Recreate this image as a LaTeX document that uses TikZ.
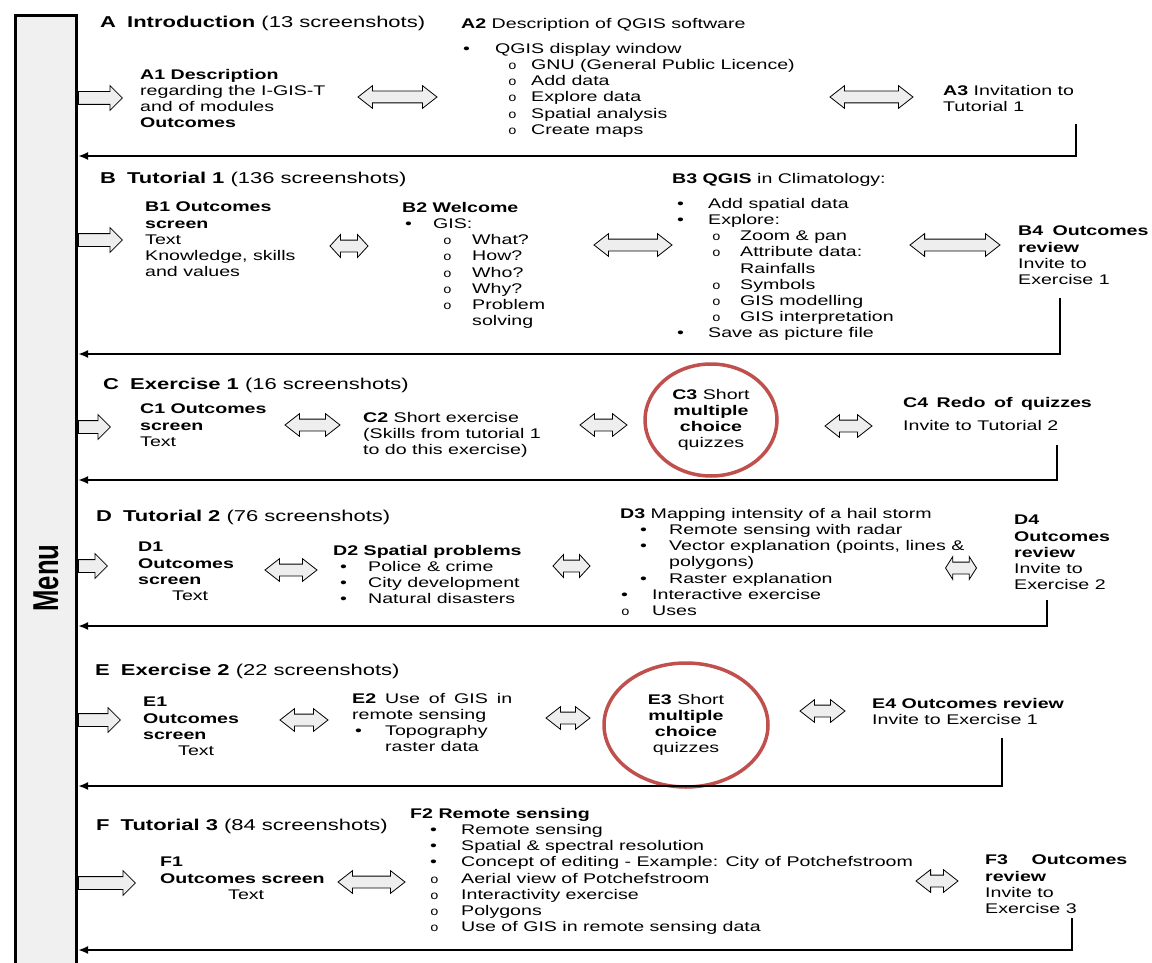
\documentclass[tikz,border=0pt]{standalone}
\usepackage{fontspec}
\setmainfont{Liberation Sans}[FakeStretch=1.4]
\newfontfamily\obfont{Liberation Mono}[FakeStretch=1.2]
\newfontfamily\menufont{Liberation Sans}[FakeStretch=0.714]
\usetikzlibrary{shapes.arrows,shapes.geometric,arrows.meta}
\definecolor{ovalred}{RGB}{192,80,77}
\definecolor{arrowfill}{RGB}{238,238,238}
\definecolor{menufill}{RGB}{240,240,240}
\newcommand{\ob}{{\obfont\fontsize{12}{16.2}\selectfont o}}
\newcommand{\BL}[2]{\hspace*{#1pt}\makebox[\dimexpr#2pt-#1pt\relax][l]{•}}
\newcommand{\OL}[2]{\hspace*{#1pt}\makebox[\dimexpr#2pt-#1pt\relax][l]{\ob}}
\begin{document}
\begin{tikzpicture}[x=1pt,y=-1pt,
  txt/.style={anchor=north west,inner sep=0pt,align=left,font=\fontsize{14}{16.2}\selectfont},
  ttl/.style={anchor=north west,inner sep=0pt,font=\fontsize{15.7}{18}\selectfont},
  inarrow/.style={single arrow,draw=black,line width=0.8pt,fill=arrowfill,anchor=west,
    inner xsep=0pt,inner ysep=6pt,single arrow head extend=6pt,minimum width=24pt},
  dbl/.style={double arrow,draw=black,line width=0.8pt,fill=arrowfill,
    inner xsep=0pt,inner ysep=5.5pt,double arrow head extend=5.5pt,minimum width=22pt,
    double arrow tip angle=76},
  ret/.style={line width=2.2pt,-{Latex[length=10pt,width=8pt]}},
  oval/.style={ellipse,draw=ovalred,line width=3.5pt,align=center,inner sep=0pt,
    font=\fontsize{14}{15.8}\selectfont}
]
\useasboundingbox (0,0) rectangle (1152,963);
% menu
\node[draw=black,line width=3pt,fill=menufill,minimum width=61pt,minimum height=964.5pt,
  inner sep=0pt,anchor=north west] (menu) at (14,14) {};
\node[rotate=90,inner sep=0pt] (menulbl) at (46,578)
  {\menufont\bfseries\fontsize{36}{40}\selectfont Menu};

% ---------------- A
\node[ttl] (Atitle) at (100,16.4) {\textbf{A\hspace{5pt} Introduction} (13 screenshots)};
\node[inarrow,minimum height=44pt] (inA) at (78,98) {};
\node[txt] (A1) at (140,69) {\textbf{A1 Description}\\regarding the I-GIS-T\\and of modules\\\textbf{Outcomes}};
\node[dbl,minimum height=79pt] (dA12) at (397.5,97) {};
\node[txt] (A2) at (461,18) {\textbf{A2} Description of QGIS software\\[8.8pt]
  \BL{2}{34}QGIS display window\\
  \OL{47}{70}GNU (General Public Licence)\\
  \OL{47}{70}Add data\\
  \OL{47}{70}Explore data\\
  \OL{47}{70}Spatial analysis\\
  \OL{47}{70}Create maps};
\node[dbl,minimum height=83pt] (dA23) at (871.5,97) {};
\node[txt] (A3) at (943,85) {\textbf{A3} Invitation to\\Tutorial 1};
\coordinate (rA) at (1076,124); \coordinate (yA) at (0,156);
\draw[ret] (rA) |- (menu.east |- yA);

% ---------------- B
\node[ttl] (Btitle) at (100,172.4) {\textbf{B\hspace{5pt} Tutorial 1} (136 screenshots)};
\node[inarrow,minimum height=44pt] (inB) at (78,240) {};
\node[txt] (B1) at (145,202) {\textbf{B1 Outcomes}\\\textbf{screen}\\Text\\Knowledge, skills\\and values};
\node[dbl,minimum height=38pt,double arrow tip angle=95] (dB12) at (349,246) {};
\node[txt] (B2) at (402,202) {\textbf{B2 Welcome}\\
  \BL{3}{31}GIS:\\
  \OL{41}{70}What?\\
  \OL{41}{70}How?\\
  \OL{41}{70}Who?\\
  \OL{41}{70}Why?\\
  \OL{41}{70}Problem\\
  \hspace*{70pt}solving};
\node[dbl,minimum height=78pt] (dB23) at (633,245) {};
\node[txt] (B3) at (672,173) {\textbf{B3 QGIS} in Climatology:\\[8.8pt]
  \BL{5}{36}Add spatial data\\
  \BL{5}{36}Explore:\\
  \OL{40}{68}Zoom \& pan\\
  \OL{40}{68}Attribute data:\\
  \hspace*{68pt}Rainfalls\\
  \OL{40}{68}Symbols\\
  \OL{40}{68}GIS modelling\\
  \OL{40}{68}GIS interpretation\\
  \BL{5}{36}Save as picture file};
\node[dbl,minimum height=90pt] (dB34) at (955,245) {};
\node[txt] (B4) at (1018,226) {\textbf{B4\hspace{4pt} Outcomes}\\\textbf{review}\\Invite to\\Exercise 1};
\coordinate (rB) at (1060,298); \coordinate (yB) at (0,354);
\draw[ret] (rB) |- (menu.east |- yB);

% ---------------- C
\node[ttl] (Ctitle) at (103,378.4) {\textbf{C\hspace{5pt} Exercise 1} (16 screenshots)};
\node[inarrow,minimum height=32pt] (inC) at (78,427) {};
\node[txt] (C1) at (140,404) {\textbf{C1 Outcomes}\\\textbf{screen}\\Text};
\node[dbl,minimum height=55pt] (dC12) at (312.5,425) {};
\node[txt] (C2) at (363,412) {\textbf{C2} Short exercise\\(Skills from tutorial 1\\to do this exercise)};
\node[dbl,minimum height=47pt] (dC23) at (603.5,425) {};
\node[oval,minimum width=132pt,minimum height=112pt] (C3) at (711,420)
  {\textbf{C3} Short\\\textbf{multiple}\\\textbf{choice}\\quizzes};
\node[dbl,minimum height=47pt] (dC34) at (848.5,426) {};
\node[txt] (C4) at (903,397) {\textbf{C4\hspace{3pt} Redo\hspace{3pt} of\hspace{3pt} quizzes}\\[6.8pt]Invite to Tutorial 2};
\coordinate (rC) at (1057,445); \coordinate (yC) at (0,480);
\draw[ret] (rC) |- (menu.east |- yC);

% ---------------- D
\node[ttl] (Dtitle) at (96,510.4) {\textbf{D\hspace{5pt} Tutorial 2} (76 screenshots)};
\node[inarrow,minimum height=29pt] (inD) at (78,566) {};
\node[txt] (D1) at (138,542) {\textbf{D1}\\\textbf{Outcomes}\\\textbf{screen}\\\hspace*{34pt}Text};
\node[dbl,minimum height=52pt] (dD12) at (291,570) {};
\node[txt] (D2) at (333,545) {\textbf{D2 Spatial problems}\\
  \BL{7}{35}Police \& crime\\
  \BL{7}{35}City development\\
  \BL{7}{35}Natural disasters};
\node[dbl,minimum height=37pt,double arrow tip angle=95] (dD23) at (571.5,566) {};
\node[txt] (D3) at (620,508) {\textbf{D3} Mapping intensity of a hail storm\\
  \BL{20}{49}Remote sensing with radar\\
  \BL{20}{49}Vector explanation (points, lines \&\\
  \hspace*{49pt}polygons)\\
  \BL{20}{49}Raster explanation\\
  \BL{1}{32}Interactive exercise\\
  \OL{1}{32}Uses};
\node[dbl,minimum height=31pt,double arrow tip angle=115] (dD34) at (961,568) {};
\node[txt] (D4) at (1014,515) {\textbf{D4}\\\textbf{Outcomes}\\\textbf{review}\\Invite to\\Exercise 2};
\coordinate (rD) at (1047,600); \coordinate (yD) at (0,626);
\draw[ret] (rD) |- (menu.east |- yD);

% ---------------- E
\node[ttl] (Etitle) at (95,664.4) {\textbf{E\hspace{5pt} Exercise 2} (22 screenshots)};
\node[inarrow,minimum height=42pt] (inE) at (78,720) {};
\node[txt] (E1) at (143,697) {\textbf{E1}\\\textbf{Outcomes}\\\textbf{screen}\\\hspace*{35pt}Text};
\node[dbl,minimum height=48pt] (dE12) at (304,720) {};
\node[txt] (E2) at (352,693) {\textbf{E2}\hspace{3.5pt} Use\hspace{3.5pt} of\hspace{3.5pt} GIS\hspace{3.5pt} in\\remote sensing\\
  \BL{3}{33}Topography\\
  \hspace*{33pt}raster data};
\node[dbl,minimum height=44pt] (dE23) at (568,718) {};
\node[oval,minimum width=164pt,minimum height=124pt] (E3) at (686,725)
  {\textbf{E3} Short\\\textbf{multiple}\\\textbf{choice}\\quizzes};
\node[dbl,minimum height=45pt] (dE34) at (822.5,711) {};
\node[txt] (E4) at (872,698) {\textbf{E4 Outcomes review}\\Invite to Exercise 1};
\coordinate (rE) at (1002,738); \coordinate (yE) at (0,786);
\draw[ret] (rE) |- (menu.east |- yE);

% ---------------- F
\node[ttl] (Ftitle) at (96,819.4) {\textbf{F\hspace{5pt} Tutorial 3} (84 screenshots)};
\node[inarrow,minimum height=57pt] (inF) at (78,883) {};
\node[txt] (F1) at (160,857) {\textbf{F1}\\\textbf{Outcomes screen}\\\hspace*{68pt}Text};
\node[dbl,minimum height=67pt] (dF12) at (371.5,882) {};
\node[txt] (F2) at (410,808) {\textbf{F2 Remote sensing}\\
  \BL{20}{51}Remote sensing\\
  \BL{20}{51}Spatial \& spectral resolution\\
  \BL{20}{51}Concept of editing - Example: City of Potchefstroom\\
  \OL{20}{51}Aerial view of Potchefstroom\\
  \OL{20}{51}Interactivity exercise\\
  \OL{20}{51}Polygons\\
  \OL{20}{51}Use of GIS in remote sensing data};
\node[dbl,minimum height=42pt] (dF23) at (937,881) {};
\node[txt] (F3) at (985,855) {\textbf{F3\hspace{18pt} Outcomes}\\\textbf{review}\\Invite to\\Exercise 3};
\coordinate (rF) at (1072,918); \coordinate (yF) at (0,950);
\draw[ret] (rF) |- (menu.east |- yF);
\end{tikzpicture}
\end{document}
